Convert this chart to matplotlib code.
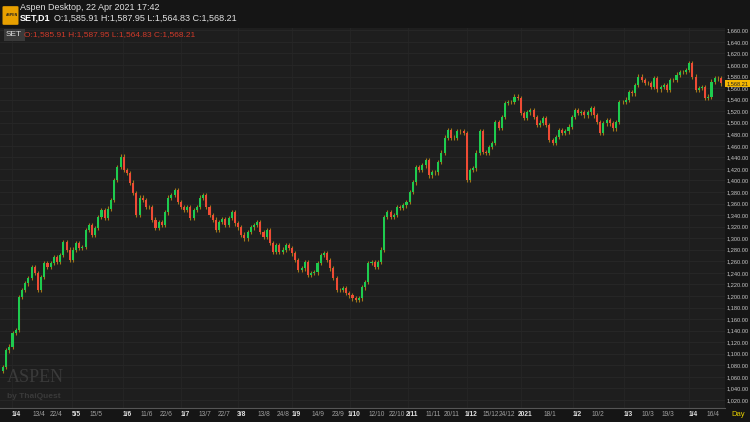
import numpy as np
import matplotlib.pyplot as plt
from matplotlib.patches import FancyBboxPatch

# daily closes, SET index, Apr 2020 - 22 Apr 2021
closes = [1077, 1106, 1112, 1136, 1141, 1198, 1210, 1222, 1231, 1250, 1240, 1210, 1233, 1257,
          1250, 1257, 1267, 1259, 1271, 1293, 1280, 1262, 1280, 1292, 1283, 1285, 1314, 1323,
          1306, 1318, 1337, 1349, 1335, 1351, 1366, 1401, 1423, 1441, 1418, 1413, 1396, 1378,
          1340, 1370, 1366, 1354, 1354, 1332, 1318, 1328, 1323, 1345, 1370, 1375, 1383, 1363,
          1354, 1349, 1354, 1335, 1349, 1354, 1370, 1375, 1354, 1340, 1332, 1314, 1328, 1333,
          1323, 1335, 1345, 1326, 1319, 1306, 1300, 1311, 1319, 1323, 1328, 1311, 1302, 1314,
          1292, 1276, 1288, 1276, 1280, 1288, 1283, 1274, 1262, 1245, 1248, 1259, 1236, 1240,
          1241, 1257, 1271, 1274, 1262, 1248, 1231, 1210, 1210, 1214, 1205, 1201, 1196, 1193,
          1196, 1215, 1224, 1257, 1259, 1250, 1259, 1280, 1337, 1345, 1337, 1340, 1354, 1352,
          1357, 1363, 1380, 1397, 1423, 1418, 1426, 1435, 1409, 1414, 1414, 1432, 1448, 1474,
          1487, 1474, 1474, 1485, 1485, 1482, 1401, 1418, 1421, 1448, 1485, 1449, 1448, 1458,
          1465, 1501, 1491, 1510, 1534, 1536, 1536, 1545, 1543, 1517, 1508, 1518, 1522, 1510,
          1496, 1500, 1508, 1496, 1470, 1465, 1475, 1487, 1482, 1485, 1493, 1510, 1522, 1517,
          1518, 1513, 1518, 1525, 1513, 1501, 1482, 1499, 1504, 1499, 1490, 1501, 1536, 1536,
          1540, 1553, 1551, 1565, 1580, 1574, 1569, 1569, 1562, 1577, 1558, 1562, 1565, 1557,
          1574, 1574, 1583, 1588, 1588, 1591, 1603, 1580, 1557, 1560, 1562, 1543, 1545, 1571,
          1577, 1577, 1568.21]

tick_labels = ['1/4', '13/4', '22/4', '5/5', '15/5', '1/6', '11/6', '22/6', '1/7', '13/7', '22/7',
               '3/8', '13/8', '24/8', '1/9', '14/9', '23/9', '1/10', '12/10', '22/10', '2/11',
               '11/11', '20/11', '1/12', '15/12', '24/12', '2021', '18/1', '1/2', '10/2', '1/3',
               '10/3', '19/3', '1/4', '16/4']
tick_px = [16, 39, 56, 76, 96, 127, 147, 166, 185, 205, 224, 242, 264, 283, 296, 318, 338, 354,
           377, 397, 412, 433, 452, 471, 491, 507, 525, 550, 577, 598, 628, 648, 668, 693, 713]
bold_ticks = ['1/4', '5/5', '1/6', '1/7', '3/8', '1/9', '1/10', '2/11', '1/12', '2021', '1/2', '1/3']

plt.rcParams['font.family'] = ['Liberation Sans', 'DejaVu Sans']

c = np.array(closes, dtype=float)
o = np.r_[1070.0, c[:-1]]
n = len(c)
x = np.arange(n)
hi = np.maximum(o, c) + 4
lo = np.minimum(o, c) - 4

bg = '#1e1e1e'
W = 725
fig = plt.figure(figsize=(7.5, 4.22), dpi=100, facecolor='#151515')
ax = fig.add_axes([0, 14/422, W/750, 380/422], facecolor=bg)

# map picture x pixels onto candle index
x0, x1 = 3, 721
to_idx = lambda p: (np.array(p) - x0) / (x1 - x0) * (n - 1)
ax.set_xlim(to_idx(0), to_idx(W))
ax.set_ylim(1006, 1664)

for yv in range(1020, 1661, 20):
    ax.axhline(yv, color='#282828', lw=0.6, zorder=0)
for lab, p in zip(tick_labels, tick_px):
    if lab in bold_ticks:
        ax.axvline(to_idx(p - 4), color='#262626', lw=0.6, zorder=0)

up = c >= o
ax.vlines(x, lo, hi, color='#a0781a', lw=0.8, zorder=1)
ax.bar(x[up], (c - o)[up], bottom=o[up], width=0.65, color='#1ecb4f', zorder=2)
ax.bar(x[~up], (c - o)[~up], bottom=o[~up], width=0.65, color='#ee4b35', zorder=2)

ax.yaxis.tick_right()
ax.set_yticks(range(1020, 1661, 20))
ax.set_yticklabels([f'{v:,.2f}' for v in range(1020, 1661, 20)])
ax.tick_params(axis='y', length=0, labelsize=4.1, colors='#c8c8c8', pad=1)
ax.set_xticks(to_idx(tick_px))
ax.set_xticklabels(tick_labels)
for t in ax.get_xticklabels():
    t.set_fontweight('bold' if t.get_text() in bold_ticks else 'normal')
    t.set_color('#e0e0e0' if t.get_text() in bold_ticks else '#a0a0a0')
ax.tick_params(axis='x', length=0, labelsize=4.8, pad=2.5)
for s in ax.spines.values():
    s.set_visible(False)
ax.spines['bottom'].set_visible(True)
ax.spines['bottom'].set_color('#555555')

# last price tag
ax.text(1.002, (c[-1] - 1006) / (1664 - 1006), f'{c[-1]:,.2f}', transform=ax.transAxes,
        fontsize=4.1, color='#222222', va='center', ha='left',
        bbox=dict(boxstyle='square,pad=0.2', fc='#f5b800', ec='none'))
fig.text(738/750, 1 - 414/422, 'Day', color='#e8d000', fontsize=5.5, ha='center', va='center')

# header
fig.patches.append(FancyBboxPatch((4/750, 1 - 24/422), 13/750, 17/422, boxstyle='round,pad=0.002',
                                  transform=fig.transFigure, fc='#e8a000', ec='none'))
fig.text(6/750, 1 - 16/422, 'ASPEN', fontsize=2.5, color='#222222', fontweight='bold')
fig.text(20/750, 1 - 8/422, 'Aspen Desktop, 22 Apr 2021 17:42', fontsize=6.5, color='#e0e0e0', va='center')
fig.text(20/750, 1 - 18/422, 'SET,D1', fontsize=6.5, color='white', fontweight='bold', va='center')
fig.text(54/750, 1 - 18/422, 'O:1,585.91 H:1,587.95 L:1,564.83 C:1,568.21', fontsize=6.5,
         color='#e0e0e0', va='center')
fig.text(6/750, 1 - 35/422, 'SET', fontsize=6, color='#dddddd', va='center',
         bbox=dict(boxstyle='square,pad=0.3', fc='#3a3a3a', ec='none'))
fig.text(24/750, 1 - 35/422, 'O:1,585.91 H:1,587.95 L:1,564.83 C:1,568.21', fontsize=6,
         color='#d03a2a', va='center')

# watermark
fig.text(7/750, 1 - 382/422, 'ASPEN', fontsize=13, color='#3a3a3a', family='Liberation Serif')
fig.text(7/750, 1 - 398/422, 'by ThaiQuest', fontsize=6, color='#3a3a3a', fontweight='bold')

fig.savefig('out.png', dpi=100, facecolor=fig.get_facecolor())
